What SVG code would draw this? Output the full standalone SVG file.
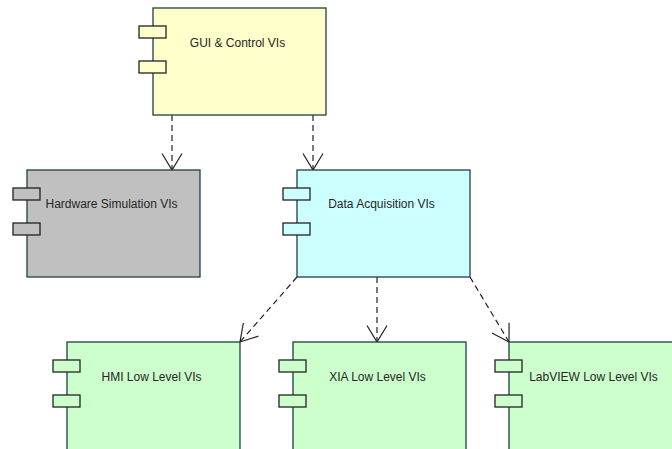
<svg xmlns="http://www.w3.org/2000/svg" width="672" height="449" viewBox="0 0 672 449">
  <style>
    .box { stroke: #1f3f3f; stroke-width: 1.3; }
    .port { stroke: #222; stroke-width: 1.3; }
    .label { font-family: "Liberation Sans", Arial, sans-serif; font-size: 12px; fill: #262626; text-anchor: middle; }
    .dep { fill: none; stroke: #222; stroke-width: 1.2; stroke-dasharray: 6 4; }
    .yellow { fill: #ffffcc; }
    .gray { fill: #c0c0c0; }
    .cyan { fill: #ccffff; }
    .green { fill: #ccffcc; }
  </style>
  <defs>
    <marker id="open" markerUnits="userSpaceOnUse" markerWidth="20" markerHeight="24" refX="17" refY="10" orient="auto" viewBox="0 0 20 20" overflow="visible">
      <path d="M0.5,0 L17,10 L0.5,20" fill="none" stroke="#222" stroke-width="1.2"/>
    </marker>
  </defs>

  <g id="connectors">
    <path class="dep" d="M172,115 L172,170" marker-end="url(#open)"/>
    <path class="dep" d="M313,115 L313,170" marker-end="url(#open)"/>
    <path class="dep" d="M297,277 L240,342" marker-end="url(#open)"/>
    <path class="dep" d="M377,277 L377,342" marker-end="url(#open)"/>
    <path class="dep" d="M470,277 L509,342" marker-end="url(#open)"/>
  </g>

  <g id="gui">
    <rect class="box yellow" x="153" y="8" width="173" height="107"/>
    <rect class="port yellow" x="139" y="26" width="27" height="12"/>
    <rect class="port yellow" x="139" y="61" width="27" height="12"/>
    <text class="label" x="237.5" y="47">GUI &amp; Control VIs</text>
  </g>

  <g id="hardware-sim">
    <rect class="box gray" x="27" y="170" width="173" height="107"/>
    <rect class="port gray" x="13" y="188" width="27" height="12"/>
    <rect class="port gray" x="13" y="223" width="27" height="12"/>
    <text class="label" x="111.5" y="208">Hardware Simulation VIs</text>
  </g>

  <g id="data-acq">
    <rect class="box cyan" x="297" y="170" width="173" height="107"/>
    <rect class="port cyan" x="283" y="188" width="27" height="12"/>
    <rect class="port cyan" x="283" y="223" width="27" height="12"/>
    <text class="label" x="381.5" y="208">Data Acquisition VIs</text>
  </g>

  <g id="hmi">
    <rect class="box green" x="67" y="342" width="173" height="110"/>
    <rect class="port green" x="53" y="360" width="27" height="12"/>
    <rect class="port green" x="53" y="395" width="27" height="12"/>
    <text class="label" x="151.5" y="381">HMI Low Level VIs</text>
  </g>

  <g id="xia">
    <rect class="box green" x="293" y="342" width="173" height="110"/>
    <rect class="port green" x="279" y="360" width="27" height="12"/>
    <rect class="port green" x="279" y="395" width="27" height="12"/>
    <text class="label" x="377.5" y="381">XIA Low Level VIs</text>
  </g>

  <g id="labview">
    <rect class="box green" x="509" y="342" width="173" height="110"/>
    <rect class="port green" x="495" y="360" width="27" height="12"/>
    <rect class="port green" x="495" y="395" width="27" height="12"/>
    <text class="label" x="593.5" y="381">LabVIEW Low Level VIs</text>
  </g>
</svg>
